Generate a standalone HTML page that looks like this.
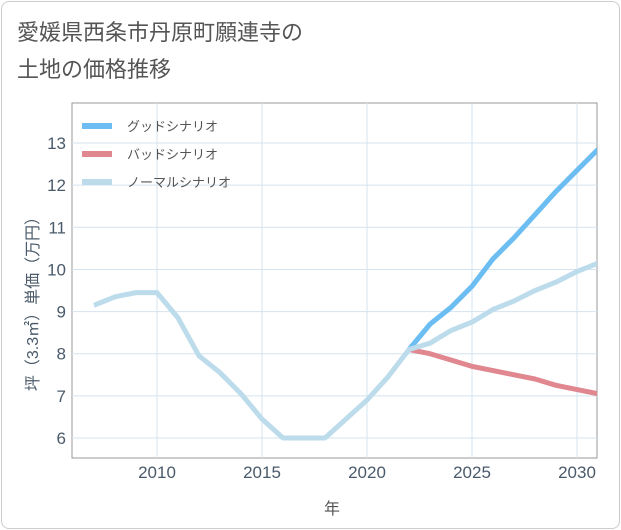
<!DOCTYPE html>
<html><head><meta charset="utf-8"><style>
body{margin:0;background:#fff;}
#card{position:absolute;left:1px;top:1px;width:617px;height:526px;border:1px solid #ccc;border-radius:8px;background:#fff;}
.t{font-family:"Liberation Sans","Noto Sans CJK JP",sans-serif;}
</style></head><body>
<div id="card"></div>
<svg id="c" width="621" height="530" style="position:absolute;left:0;top:0">
<defs><clipPath id="pc"><rect x="72" y="103" width="525" height="355"/></clipPath></defs>
<text class="t" x="17" y="40" font-size="22" fill="#555">愛媛県西条市丹原町願連寺の</text>
<text class="t" x="17" y="77" font-size="22" fill="#555">土地の価格推移</text>
<rect x="72" y="103" width="525" height="355" fill="none" stroke="#999" stroke-width="1"/>
<g id="grid"></g><g id="ticks"></g><g id="lines" clip-path="url(#pc)"></g>
<text class="t" x="332" y="514" font-size="16" fill="#555" text-anchor="middle">年</text>
<text class="t" x="0" y="0" font-size="16" fill="#4a5a6a" text-anchor="middle" transform="translate(38,300) rotate(-90)">坪（3.3㎡）単価（万円）</text>
<g id="legend"></g>
</svg>
<script>
const years=[2007,2008,2009,2010,2011,2012,2013,2014,2015,2016,2017,2018,2019,2020,2021,2022,2023,2024,2025,2026,2027,2028,2029,2030,2031];
const normal=[9.15,9.35,9.45,9.45,8.85,7.95,7.55,7.05,6.45,6.0,6.0,6.0,6.45,6.9,7.45,8.1,8.25,8.55,8.75,9.05,9.25,9.5,9.7,9.95,10.15];
const goodYears=[2022,2023,2024,2025,2026,2027,2028,2029,2030,2031];
const good=[8.1,8.7,9.1,9.6,10.25,10.75,11.3,11.85,12.35,12.85];
const bad=[8.1,8.0,7.85,7.7,7.6,7.5,7.4,7.25,7.15,7.05];
const xTicks=[2010,2015,2020,2025,2030];
const yTicks=[6,7,8,9,10,11,12,13];
const NS="http://www.w3.org/2000/svg";
const X=y=>157+(y-2010)*21;
const Y=v=>438-(v-6)*42.14;
function mk(t,a,p){const e=document.createElementNS(NS,t);for(const k in a)e.setAttribute(k,a[k]);p.appendChild(e);return e;}
const g=document.getElementById('grid'),tk=document.getElementById('ticks'),L=document.getElementById('lines'),lg=document.getElementById('legend');
xTicks.forEach(v=>{const l=mk('line',{x1:X(v),x2:X(v),y1:103,y2:458,stroke:'#d5e3ef'},g);


const t=mk('text',{x:X(v),y:478,'font-size':17,fill:'#4a5a6a','text-anchor':'middle',class:'t'},tk);t.textContent=v;

});
yTicks.forEach(v=>{const l=mk('line',{x1:72,x2:597,y1:Y(v),y2:Y(v),stroke:'#d5e3ef'},g);


const t=mk('text',{x:66,y:Y(v)+6,'font-size':17,fill:'#4a5a6a','text-anchor':'end',class:'t'},tk);t.textContent=v;

});
function line(xs,vs,col,name){const p=mk('polyline',{points:xs.map((x,i)=>X(x)+','+Y(vs[i])).join(' '),fill:'none',stroke:col,'stroke-width':5,'stroke-linejoin':'round'},L);

}
line(goodYears,good,'#6bbdf2','good-scenario-line');
line(goodYears,bad,'#e0878f','bad-scenario-line');
line(years,normal,'#bcdcec','normal-scenario-line');
[['グッドシナリオ','#6bbdf2'],['バッドシナリオ','#e0878f'],['ノーマルシナリオ','#bcdcec']].forEach((d,i)=>{const y=126+i*28;
const r=mk('rect',{x:82,y:y-3,width:30,height:6,fill:d[1]},lg);


const t=mk('text',{x:127,y:y+5,'font-size':13,fill:'#555',class:'t'},lg);t.textContent=d[0];

});
</script>
</body></html>
